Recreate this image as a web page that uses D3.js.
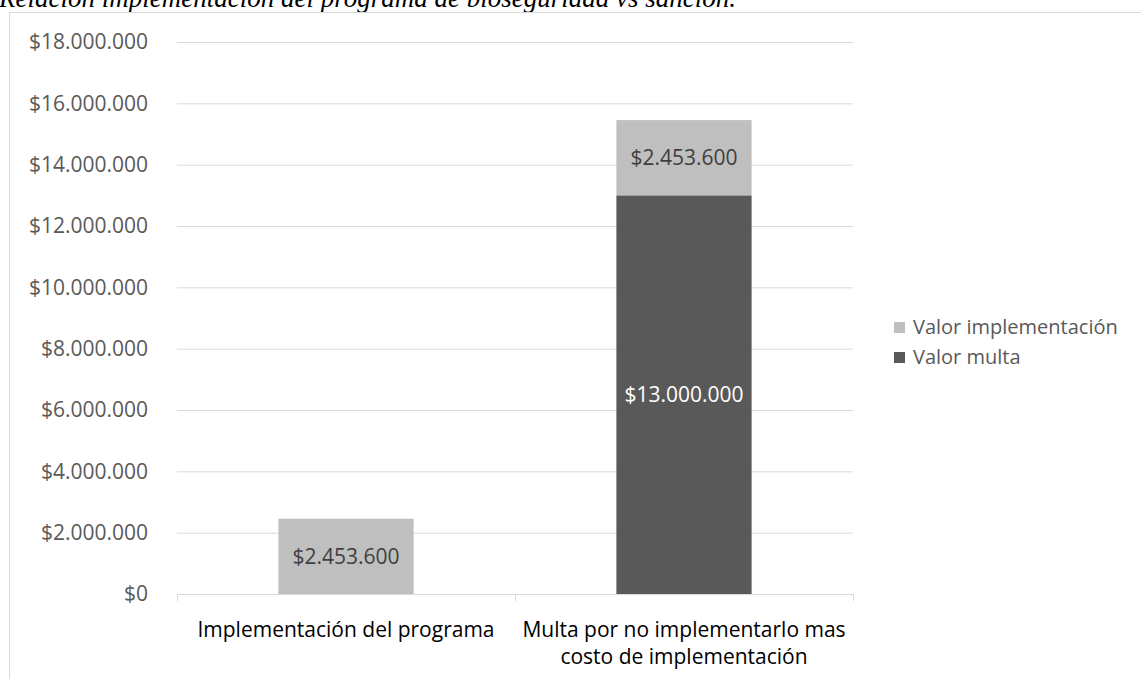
<!DOCTYPE html>
<html>
<head>
<meta charset="utf-8">
<script src="https://cdn.jsdelivr.net/npm/d3@7"></script>
<style>
  body { margin: 0; background: #fff; }
  svg { display: block; }
</style>
</head>
<body>
<svg width="1141" height="679"></svg>
<script>
// ---- Datos
const categorias = ['Implementación del programa', 'Multa por no implementarlo mas costo de implementación'];
const lineasCategoria = [['Implementación del programa'], ['Multa por no implementarlo mas', 'costo de implementación']];
const valorMulta = [0, 13000000];
const valorImplementacion = [2453600, 2453600];
const ticksY = [0, 2000000, 4000000, 6000000, 8000000, 10000000, 12000000, 14000000, 16000000, 18000000];
const series = [
    { key: 'multa', nombre: 'Valor multa', valores: valorMulta, color: '#595959', texto: '#ffffff' },
    { key: 'implementacion', nombre: 'Valor implementación', valores: valorImplementacion, color: '#bfbfbf', texto: '#404040' }
];
const titulo = 'Relación implementación del programa de bioseguridad vs sanción.';

const svg = d3.select('svg');
const fuente = "'Open Sans', sans-serif";

// formato $18.000.000
const locale = d3.formatLocale({ decimal: ',', thousands: '.', grouping: [3], currency: ['$', ''] });
const fmt = locale.format('$,.0f');

// Titulo (cortado arriba como en la imagen)
svg.append('text')
    .attr('x', -1)
    .attr('y', 7)
    .style('font-family', "'Liberation Serif', 'Times New Roman', serif")
    .style('font-style', 'italic')
    .style('font-size', '27px')
    .style('fill', '#000')
    .text(titulo);

// Borde del area del grafico
svg.append('rect')
    .attr('x', 9.5)
    .attr('y', 12.5)
    .attr('width', 1200)
    .attr('height', 700)
    .attr('fill', 'none')
    .attr('stroke', '#d9d9d9');

// ---- Escalas
const x = d3.scaleBand()
    .domain(categorias)
    .range([177, 853])
    .paddingInner(0.6)
    .paddingOuter(0.3);

const y = d3.scaleLinear()
    .domain([0, 18000000])
    .range([594, 42]);

// Grid horizontal + etiquetas Y
const gY = svg.append('g')
    .attr('transform', 'translate(177,0)')
    .call(d3.axisLeft(y).tickValues(ticksY).tickSize(-676).tickFormat(fmt).tickPadding(29));
gY.select('.domain').remove();
gY.selectAll('.tick line').attr('stroke', '#d9d9d9');
gY.selectAll('.tick text')
    .style('font-family', fuente)
    .style('font-size', '21px')
    .attr('fill', '#595959');

// Eje X (linea base con marcas entre categorias)
const base = svg.append('g');
base.append('line')
    .attr('x1', 177).attr('x2', 853)
    .attr('y1', y(0) + 0.5).attr('y2', y(0) + 0.5)
    .attr('stroke', '#d9d9d9');
const bordes = [x.range()[0], (x(categorias[0]) + x.bandwidth() + x(categorias[1])) / 2, x.range()[1]];
base.selectAll('.marca')
    .data(bordes)
    .join('line')
    .attr('class', 'marca')
    .attr('x1', d => Math.round(d) + 0.5).attr('x2', d => Math.round(d) + 0.5)
    .attr('y1', y(0)).attr('y2', y(0) + 7)
    .attr('stroke', '#d9d9d9');

// Etiquetas de categorias
base.selectAll('.cat')
    .data(categorias)
    .join('text')
    .attr('class', 'cat')
    .attr('text-anchor', 'middle')
    .attr('x', d => x(d) + x.bandwidth() / 2)
    .attr('y', 637)
    .style('font-family', fuente)
    .style('font-size', '21px')
    .attr('fill', '#000')
    .each(function (d, i) {
        d3.select(this).selectAll('tspan')
            .data(lineasCategoria[i])
            .join('tspan')
            .attr('x', x(d) + x.bandwidth() / 2)
            .attr('dy', (t, j) => j === 0 ? 0 : 27)
            .text(t => t);
    });

// ---- Barras apiladas
const tabla = categorias.map((c, i) => {
    const fila = { categoria: c };
    series.forEach(s => fila[s.key] = s.valores[i]);
    return fila;
});
const stack = d3.stack().keys(series.map(s => s.key));
const capas = stack(tabla);

capas.forEach((capa, k) => {
    const s = series[k];
    const g = svg.append('g');
    g.selectAll('rect')
        .data(capa.filter(d => d[1] - d[0] > 0))
        .join('rect')
        .attr('x', d => x(d.data.categoria))
        .attr('y', d => y(d[1]))
        .attr('width', x.bandwidth())
        .attr('height', d => y(d[0]) - y(d[1]))
        .attr('fill', s.color);
    g.selectAll('text')
        .data(capa.filter(d => d[1] - d[0] > 0))
        .join('text')
        .attr('x', d => x(d.data.categoria) + x.bandwidth() / 2)
        .attr('y', d => (y(d[0]) + y(d[1])) / 2)
        .attr('dy', '0.35em')
        .attr('text-anchor', 'middle')
        .style('font-family', fuente)
        .style('font-size', '21px')
        .attr('fill', s.texto)
        .text(d => fmt(d[1] - d[0]));
});

// ---- Leyenda
const leyenda = svg.append('g').attr('transform', 'translate(894,0)');
const itemsLeyenda = [series[1], series[0]];
const filas = leyenda.selectAll('g')
    .data(itemsLeyenda)
    .join('g')
    .attr('transform', (d, i) => `translate(0,${327 + i * 30})`);
filas.append('rect')
    .attr('x', 0).attr('y', -5)
    .attr('width', 11).attr('height', 11)
    .attr('fill', d => d.color);
filas.append('text')
    .attr('x', 19)
    .attr('y', 0)
    .attr('dy', '0.35em')
    .style('font-family', fuente)
    .style('font-size', '20px')
    .attr('fill', '#595959')
    .text(d => d.nombre);
</script>
</body>
</html>
